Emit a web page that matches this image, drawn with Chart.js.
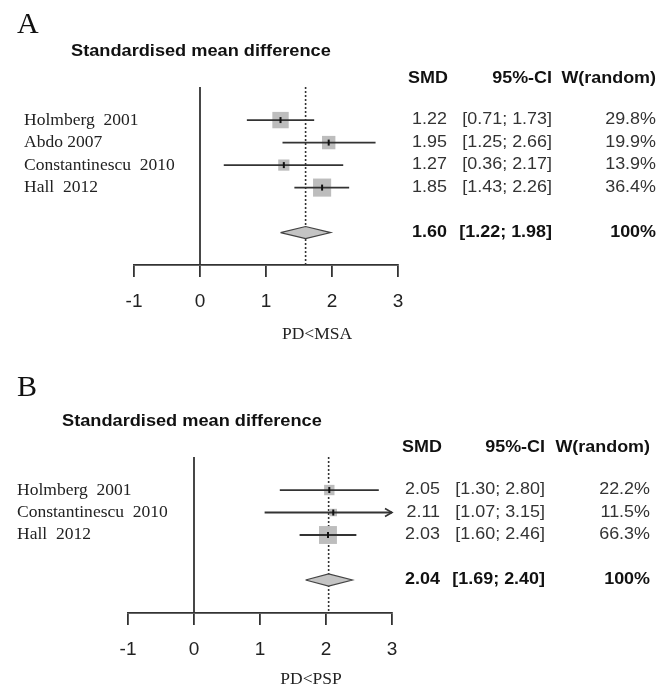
<!DOCTYPE html>
<html lang="en">
<head>
  <meta charset="UTF-8" />
  <title>Forest plots</title>
  <script src="https://cdn.jsdelivr.net/npm/chart.js"></script>
  <style>
    body { margin: 0; background: #fff; }
    #wrap { position: relative; width: 672px; height: 692px; }
    canvas { position: absolute; left: 0; }
    #chartA { top: 0; }
    #chartB { top: 346px; }
  </style>
</head>
<body>
  <div id="wrap">
    <canvas id="chartA" width="672" height="346"></canvas>
    <canvas id="chartB" width="672" height="346"></canvas>
  </div>

  <script>
    // panel A: PD < MSA
    const studiesA = ['Holmberg  2001', 'Abdo 2007', 'Constantinescu  2010', 'Hall  2012'];
    const smdA = [1.22, 1.95, 1.27, 1.85];
    const lowerA = [0.71, 1.25, 0.36, 1.43];
    const upperA = [1.73, 2.66, 2.17, 2.26];
    const weightA = [29.8, 19.9, 13.9, 36.4];
    const pooledA = { smd: 1.60, lower: 1.22, upper: 1.98 };

    // panel B: PD < PSP
    const studiesB = ['Holmberg  2001', 'Constantinescu  2010', 'Hall  2012'];
    const smdB = [2.05, 2.11, 2.03];
    const lowerB = [1.30, 1.07, 1.60];
    const upperB = [2.80, 3.15, 2.46];
    const weightB = [22.2, 11.5, 66.3];
    const pooledB = { smd: 2.04, lower: 1.69, upper: 2.40 };

    const xMin = -1, xMax = 3;

    const SANS = '"Liberation Sans", Arial, sans-serif';
    const SERIF = '"Liberation Serif", "Times New Roman", serif';

    function drawText(ctx, s, x, y, font, align, sx, color) {
      ctx.save();
      ctx.font = font;
      ctx.fillStyle = color || '#222';
      ctx.textBaseline = 'middle';
      ctx.textAlign = align;
      ctx.translate(x, y);
      ctx.scale(sx, 1);
      ctx.fillText(s, 0, 0);
      ctx.restore();
    }

    function forest(id, d, lay) {
      const n = d.studies.length;
      const poolRow = n + 2;
      const rows = d.studies.map((s, i) => i + 1);
      const ds = [];

      // CI lines
      d.lower.forEach((lo, i) => {
        ds.push({
          type: 'line',
          data: [{ x: lo, y: rows[i] }, { x: d.upper[i], y: rows[i] }],
          borderColor: '#333', borderWidth: 1.8, pointRadius: 0, order: 3
        });
      });
      // study squares, area ~ weight
      ds.push({
        type: 'scatter',
        data: d.smd.map((v, i) => ({ x: v, y: rows[i] })),
        pointStyle: 'rect',
        pointRadius: d.weight.map(w => lay.sq * Math.sqrt(w) / Math.SQRT2),
        backgroundColor: '#bdbdbd', borderWidth: 0, order: 4
      });
      // estimate marks
      ds.push({
        type: 'scatter',
        data: d.smd.map((v, i) => ({ x: v, y: rows[i] })),
        pointStyle: 'line', rotation: 90, pointRadius: 3,
        borderColor: '#111', borderWidth: 2, order: 2
      });
      // no effect line and pooled estimate
      ds.push({
        type: 'line',
        data: [{ x: 0, y: lay.yMin }, { x: 0, y: lay.yMax }],
        borderColor: '#333', borderWidth: 1.8, pointRadius: 0, order: 6
      });
      ds.push({
        type: 'line',
        data: [{ x: d.pooled.smd, y: lay.yMin }, { x: d.pooled.smd, y: lay.yMax }],
        borderColor: '#333', borderWidth: 1.6, borderDash: [2, 2], pointRadius: 0, order: 5
      });
      // pooled diamond
      const h = 0.27;
      ds.push({
        type: 'line',
        data: [
          { x: d.pooled.lower, y: poolRow },
          { x: d.pooled.smd, y: poolRow - h },
          { x: d.pooled.upper, y: poolRow },
          { x: d.pooled.smd, y: poolRow + h },
          { x: d.pooled.lower, y: poolRow }
        ],
        fill: 'shape', backgroundColor: '#c4c4c4',
        borderColor: '#444', borderWidth: 1.2, pointRadius: 0, order: 1
      });

      const textPlugin = {
        id: 'forestText',
        afterDatasetsDraw(chart) {
          const ctx = chart.ctx;
          const xs = chart.scales.x, ys = chart.scales.y;
          // arrows for CIs beyond the axis
          d.upper.forEach((hi, i) => {
            if (hi > xMax) {
              const px = xs.getPixelForValue(xMax), py = ys.getPixelForValue(rows[i]);
              ctx.save();
              ctx.strokeStyle = '#333';
              ctx.lineWidth = 1.6;
              ctx.beginPath();
              ctx.moveTo(px - 7, py - 4);
              ctx.lineTo(px, py);
              ctx.lineTo(px - 7, py + 4);
              ctx.stroke();
              ctx.restore();
            }
          });
        },
        afterDraw(chart) {
          const ctx = chart.ctx;
          const ys = chart.scales.y;
          drawText(ctx, d.letter, lay.letterX, lay.letterY, '30px ' + SERIF, 'left', 1, '#111');
          drawText(ctx, 'Standardised mean difference', lay.titleX, lay.titleY, 'bold 17px ' + SANS, 'left', 1.07, '#111');

          // column headers
          const c = lay.cols;
          drawText(ctx, 'SMD', c.smdL, lay.headY, 'bold 16px ' + SANS, 'left', 1.12, '#111');
          drawText(ctx, '95%-CI', c.ci, lay.headY, 'bold 16px ' + SANS, 'right', 1.12, '#111');
          drawText(ctx, 'W(random)', c.w, lay.headY, 'bold 16px ' + SANS, 'right', 1.12, '#111');

          d.studies.forEach((s, i) => {
            const y = ys.getPixelForValue(rows[i]);
            drawText(ctx, s, lay.labelX, y, '17px ' + SERIF, 'left', 1.03, '#222');
            drawText(ctx, d.smd[i].toFixed(2), c.smd, y, '16px ' + SANS, 'right', 1.12, '#333');
            drawText(ctx, '[' + d.lower[i].toFixed(2) + '; ' + d.upper[i].toFixed(2) + ']', c.ci, y, '16px ' + SANS, 'right', 1.12, '#333');
            drawText(ctx, d.weight[i].toFixed(1) + '%', c.w, y, '16px ' + SANS, 'right', 1.12, '#333');
          });

          const py = ys.getPixelForValue(poolRow);
          drawText(ctx, d.pooled.smd.toFixed(2), c.smd, py, 'bold 16px ' + SANS, 'right', 1.12, '#111');
          drawText(ctx, '[' + d.pooled.lower.toFixed(2) + '; ' + d.pooled.upper.toFixed(2) + ']', c.ci, py, 'bold 16px ' + SANS, 'right', 1.12, '#111');
          drawText(ctx, '100%', c.w, py, 'bold 16px ' + SANS, 'right', 1.12, '#111');

          drawText(ctx, d.xTitle, lay.xTitleX, lay.xTitleY, '17px ' + SERIF, 'center', 1.03, '#222');
        }
      };

      return new Chart(document.getElementById(id), {
        type: 'line',
        data: { datasets: ds },
        options: {
          responsive: false,
          animation: false,
          devicePixelRatio: 1,
          events: [],
          layout: { padding: { left: lay.left, right: lay.right, top: lay.top, bottom: 0 } },
          plugins: { legend: { display: false }, tooltip: { enabled: false } },
          scales: {
            x: {
              type: 'linear', min: xMin, max: xMax,
              afterFit(scale) { scale.height = lay.axisH; },
              ticks: { stepSize: 1, padding: 13, color: '#222', font: { family: SANS, size: 19 } },
              grid: { display: true, drawOnChartArea: false, drawTicks: true, tickLength: 12, color: '#333', lineWidth: 1.8 },
              border: { display: true, color: '#333', width: 1.8 }
            },
            y: { type: 'linear', display: false, min: lay.yMin, max: lay.yMax, reverse: true }
          }
        },
        plugins: [textPlugin]
      });
    }

    forest('chartA',
      { letter: 'A', xTitle: 'PD<MSA', studies: studiesA, smd: smdA, lower: lowerA, upper: upperA, weight: weightA, pooled: pooledA },
      { left: 134, right: 274, top: 87, axisH: 81, yMin: -0.47, yMax: 7.44, sq: 3.0,
        letterX: 17, letterY: 25, titleX: 71, titleY: 51, headY: 79, labelX: 24,
        cols: { smdL: 408, smd: 447, ci: 552, w: 656 }, xTitleX: 317, xTitleY: 335 });

    forest('chartB',
      { letter: 'B', xTitle: 'PD<PSP', studies: studiesB, smd: smdB, lower: lowerB, upper: upperB, weight: weightB, pooled: pooledB },
      { left: 128, right: 280, top: 111, axisH: 79, yMin: -0.47, yMax: 6.47, sq: 2.2,
        letterX: 17, letterY: 42, titleX: 62, titleY: 75, headY: 102, labelX: 17,
        cols: { smdL: 402, smd: 440, ci: 545, w: 650 }, xTitleX: 311, xTitleY: 334 });
  </script>
</body>
</html>
